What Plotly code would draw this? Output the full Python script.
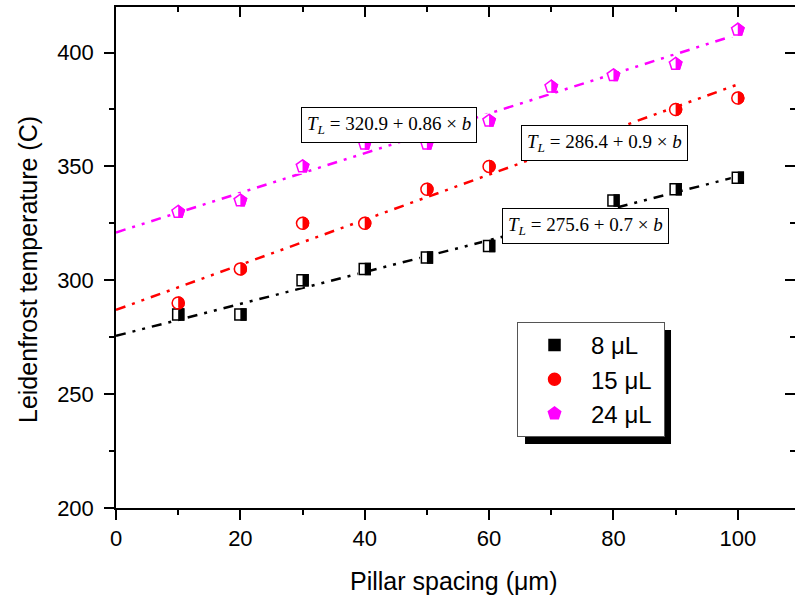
import plotly.graph_objects as go

# ---- data ----
x_8 = [10, 20, 30, 40, 50, 60, 80, 90, 100]
y_8 = [285, 285, 300, 305, 310, 315, 335, 340, 345]

x_15 = [10, 20, 30, 40, 50, 60, 90, 100]
y_15 = [290, 305, 325, 325, 340, 350, 375, 380]

x_24 = [10, 20, 30, 40, 50, 60, 70, 80, 90, 100]
y_24 = [330, 335, 350, 360, 360, 370, 385, 390, 395, 410]

fit_x = [0, 100]
fit_8 = [275.6, 345.6]
fit_15 = [287.0, 386.0]
fit_24 = [321.0, 408.0]

series_names = ["8 \u03bcL\u00a0", "15 \u03bcL\u00a0", "24 \u03bcL\u00a0"]
eq_texts = [
    "<i>T</i><sub><i>L</i></sub> = 275.6 + 0.7 \u00d7 <i>b</i>",
    "<i>T</i><sub><i>L</i></sub> = 286.4 + 0.9 \u00d7 <i>b</i>",
    "<i>T</i><sub><i>L</i></sub> = 320.9 + 0.86 \u00d7 <i>b</i>",
]
eq_pos_x = [75.5, 78.5, 43.95]
eq_pos_y = [323.8, 360.5, 368.4]

x_ticks = [0, 20, 40, 60, 80, 100]
y_ticks = [200, 250, 300, 350, 400]

X_RANGE = [0, 109.2]
Y_RANGE = [200, 420]
PLOT_W = 795 - 116
MASK_SHIFT_PX = 3.5
shift = MASK_SHIFT_PX * (X_RANGE[1] - X_RANGE[0]) / PLOT_W

colors = ["#000000", "#ff0000", "#ff00ff"]
symbols = ["square", "circle", "pentagon"]
sizes = [11, 12, 13]
dash = "10px,7px,3px,7px,3px,7px"

fig = go.Figure()

# fit lines
for fy, c in zip([fit_8, fit_15, fit_24], colors):
    fig.add_trace(go.Scatter(x=fit_x, y=fy, mode="lines",
                             line=dict(color=c, width=2.5, dash=dash),
                             showlegend=False, hoverinfo="skip"))

series = list(zip([x_8, x_15, x_24], [y_8, y_15, y_24], colors, symbols, sizes, series_names))

# layer 1: filled markers (legend entries)
for xs, ys, c, s, sz, nm in series:
    fig.add_trace(go.Scatter(
        x=xs, y=ys, mode="markers", name=nm,
        marker=dict(symbol=s, size=sz, color=c, line=dict(color=c, width=1.5))))
# layer 2: white mask over the left half (axis shifted by a few pixels)
for xs, ys, c, s, sz, nm in series:
    fig.add_trace(go.Scatter(
        x=xs, y=ys, mode="markers", xaxis="x3", showlegend=False, hoverinfo="skip",
        marker=dict(symbol="line-ns", size=10.5, color="white",
                    line=dict(color="white", width=2 * MASK_SHIFT_PX))))
# layer 3: outlines
for xs, ys, c, s, sz, nm in series:
    fig.add_trace(go.Scatter(
        x=xs, y=ys, mode="markers", xaxis="x4", showlegend=False, hoverinfo="skip",
        marker=dict(symbol=s, size=sz, color="rgba(0,0,0,0)",
                    line=dict(color=c, width=1.5))))

# dummy trace for the secondary (top/right) tick axes
fig.add_trace(go.Scatter(x=[None], y=[None], xaxis="x2", yaxis="y2",
                         showlegend=False, hoverinfo="skip"))

for tx, px, py in zip(eq_texts, eq_pos_x, eq_pos_y):
    fig.add_annotation(x=px, y=py, xref="x", yref="y", text=tx,
                       showarrow=False, bgcolor="white",
                       bordercolor="black", borderwidth=1, borderpad=5,
                       font=dict(family="Liberation Serif", size=19, color="black"))

# axis titles
fig.add_annotation(x=-0.1296, y=0.475, xref="paper", yref="paper",
                   xanchor="center", yanchor="middle",
                   text="Leidenfrost temperature (C)", textangle=-90,
                   showarrow=False,
                   font=dict(family="Arial, Liberation Sans", size=25, color="black"))
fig.add_annotation(x=0.4985, y=-0.1457, xref="paper", yref="paper",
                   xanchor="center", yanchor="middle",
                   text="Pillar spacing (\u03bcm)", showarrow=False,
                   font=dict(family="Arial, Liberation Sans", size=25, color="black"))

# legend shadow
fig.add_shape(type="rect", xref="paper", yref="paper",
              x0=0.6024, x1=0.8174, y0=0.1277, y1=0.3553,
              fillcolor="black", line=dict(width=0), layer="above")

axis_font = dict(family="Arial, Liberation Sans", size=22, color="black")
common = dict(ticks="outside", ticklen=10, tickwidth=1.5, tickcolor="black",
              showline=True, linewidth=1.5, linecolor="black", mirror=True,
              showgrid=False, zeroline=False, tickfont=axis_font, automargin=False)
fig.update_layout(
    width=795, height=603,
    margin=dict(l=116, r=0, t=7, b=95),
    plot_bgcolor="white", paper_bgcolor="white",
    font=dict(family="Arial, Liberation Sans", color="black"),
    xaxis=dict(range=X_RANGE, tickvals=x_ticks,
               minor=dict(dtick=10, tick0=0, ticks="outside", ticklen=5,
                          tickwidth=1.5, tickcolor="black", showgrid=False),
               **common),
    yaxis=dict(range=Y_RANGE, tickvals=y_ticks, ticklabelstandoff=6,
               minor=dict(dtick=25, tick0=200, ticks="outside", ticklen=5,
                          tickwidth=1.5, tickcolor="black", showgrid=False),
               **common),
    xaxis2=dict(overlaying="x", side="top", range=X_RANGE, tickvals=x_ticks,
                ticks="inside", ticklen=10, tickwidth=1.5, tickcolor="black",
                showticklabels=False, showgrid=False, zeroline=False, showline=False,
                automargin=False,
                minor=dict(dtick=10, tick0=0, ticks="inside", ticklen=5,
                           tickwidth=1.5, tickcolor="black", showgrid=False)),
    yaxis2=dict(overlaying="y", side="right", range=Y_RANGE, tickvals=y_ticks,
                ticks="inside", ticklen=10, tickwidth=1.5, tickcolor="black",
                showticklabels=False, showgrid=False, zeroline=False, showline=False,
                automargin=False,
                minor=dict(dtick=25, tick0=200, ticks="inside", ticklen=5,
                           tickwidth=1.5, tickcolor="black", showgrid=False)),
    xaxis3=dict(overlaying="x", range=[X_RANGE[0] + shift, X_RANGE[1] + shift],
                visible=False, automargin=False),
    xaxis4=dict(overlaying="x", range=X_RANGE, visible=False, automargin=False),
    legend=dict(x=0.5906, y=0.3713, xanchor="left", yanchor="top",
                bgcolor="white", bordercolor="#555555", borderwidth=1,
                font=dict(family="Arial, Liberation Sans", size=24, color="black"),
                itemwidth=63, tracegroupgap=0),
    showlegend=True,
)

fig.write_html("out.html", config={"displayModeBar": False},
               post_script="document.body.style.margin='0';")
